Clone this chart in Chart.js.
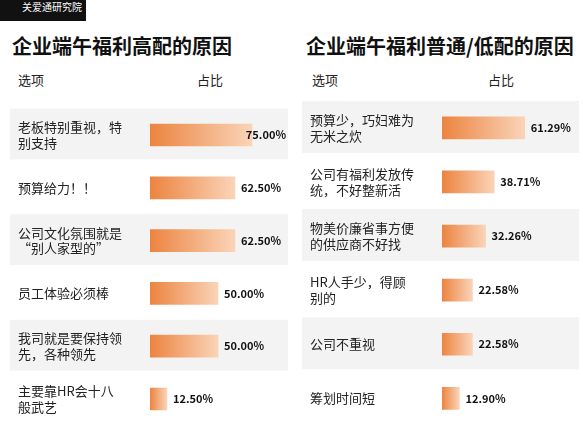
<!DOCTYPE html>
<html><head><meta charset="utf-8">
<script src="https://cdn.jsdelivr.net/npm/chart.js@4"></script>
<style>
body{margin:0;width:583px;height:441px;background:#fff;position:relative;overflow:hidden;font-family:"Noto Sans CJK SC",sans-serif;color:#111}
.t{position:absolute;font-weight:bold;font-size:20px;top:31px}
.h{position:absolute;font-size:13px;top:70px;color:#222}
.logo{position:absolute;left:0;top:0;width:86px;height:21px;background:#111;color:#fff;font-size:10px;line-height:14px;padding-left:22px;box-sizing:border-box}
.c{position:absolute;top:93px;height:348px}
</style></head><body>
<div class="logo">关爱通研究院</div>
<div class="t" style="left:12px">企业端午福利高配的原因</div>
<div class="t" style="left:306px">企业端午福利普通/低配的原因</div>
<div class="h" style="left:18px">选项</div><div class="h" style="left:197px">占比</div>
<div class="h" style="left:312px">选项</div><div class="h" style="left:488px">占比</div>
<div class="c" style="left:0;width:292px"><canvas id="a"></canvas></div>
<div class="c" style="left:292px;width:291px"><canvas id="b"></canvas></div>
<script>
const leftLabels=[["老板特别重视，特","别支持"],["预算给力！！"],["公司文化氛围就是","“别人家型的”"],["员工体验必须棒"],["我司就是要保持领","先，各种领先"],["主要靠HR会十八","般武艺"]];
const leftValues=[75.00,62.50,62.50,50.00,50.00,12.50];
const rightLabels=[["预算少，巧妇难为","无米之炊"],["公司有福利发放传","统，不好整新活"],["物美价廉省事方便","的供应商不好找"],["HR人手少，得顾","别的"],["公司不重视"],["筹划时间短"]];
const rightValues=[61.29,38.71,32.26,22.58,22.58,12.90];
const FONT='"Noto Sans CJK SC", sans-serif';
const bands={id:'bands',beforeDraw(c){const {ctx,chartArea:a}=c;ctx.save();ctx.fillStyle='#f3f3f3';
 for(let i=0;i<c.data.labels.length;i+=2){const h=a.height/c.data.labels.length;ctx.fillRect(10,a.top+i*h,c.width-14,h-2);}ctx.restore();}};
const vals={id:'vals',afterDatasetsDraw(c){const {ctx}=c;const m=c.getDatasetMeta(0);ctx.save();ctx.font='bold 11px '+FONT;ctx.fillStyle='#111';ctx.textBaseline='middle';
 m.data.forEach((b,i)=>{const t=c.data.datasets[0].data[i].toFixed(2)+'%';const w=ctx.measureText(t).width;let x=b.x+6;if(x+w>c.width-6)x=c.width-6-w;ctx.fillText(t,x,b.y);});ctx.restore();}};
function make(id,labels,values){
 new Chart(document.getElementById(id),{type:'bar',data:{labels,datasets:[{data:values,barThickness:22,
  backgroundColor(ctx){const c=ctx.chart;if(!c.chartArea)return '#f0a070';const xs=c.scales.x;const x0=xs.getPixelForValue(0),x1=xs.getPixelForValue(ctx.raw||1);
   const g=c.ctx.createLinearGradient(x0,0,x1,0);g.addColorStop(0,'#ec8440');g.addColorStop(1,'#fad4b8');return g;}}]},
 options:{indexAxis:'y',responsive:true,maintainAspectRatio:false,animation:false,events:[],
  layout:{padding:{left:18,right:6,top:0,bottom:0}},
  plugins:{legend:{display:false},tooltip:{enabled:false}},
  scales:{x:{min:0,max:100,display:false},
   y:{grid:{display:false},border:{display:false},afterFit(s){s.width=132;},
    ticks:{crossAlign:'far',color:'#222',font:{family:FONT,size:13},padding:0}}}},
 plugins:[bands,vals]});
}
make('a',leftLabels,leftValues);make('b',rightLabels,rightValues);
</script></body></html>
